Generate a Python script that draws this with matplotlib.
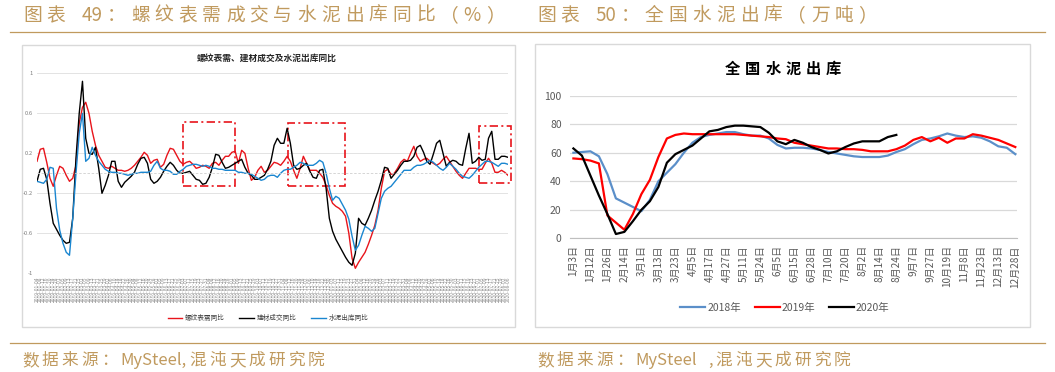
import matplotlib
matplotlib.use("Agg")
import matplotlib.pyplot as plt
from matplotlib.patches import Rectangle
import pandas as pd

# ---- left chart: YoY ratios ----
REBAR = [0.12, 0.24, 0.25, 0.11, -0.05, -0.13, -0.02, 0.07, 0.05, -0.02,
         -0.08, -0.05, 0.08, 0.50, 0.66, 0.71, 0.60, 0.42, 0.28, 0.18,
         0.12, 0.06, 0.05, 0.07, 0.05, 0.03, 0.03, 0.02, 0.03, 0.05,
         0.08, 0.12, 0.16, 0.21, 0.18, 0.10, 0.13, 0.14, 0.06, 0.09,
         0.18, 0.25, 0.24, 0.18, 0.12, 0.09, 0.11, 0.12, 0.09, 0.05,
         0.06, 0.08, 0.07, 0.05, 0.10, 0.11, 0.08, 0.13, 0.17, 0.17,
         0.21, 0.22, 0.10, 0.23, 0.20, 0.05, -0.07, -0.04, 0.03, 0.07,
         0.01, 0.03, 0.07, 0.11, 0.10, 0.08, 0.12, 0.17, 0.12, 0.03,
         -0.05, 0.05, 0.17, 0.10, 0.03, 0.03, 0.03, 0.00, -0.04, -0.12,
         -0.22, -0.30, -0.33, -0.35, -0.38, -0.43, -0.60, -0.85, -0.95, -0.89,
         -0.84, -0.79, -0.71, -0.62, -0.52, -0.37, -0.15, 0.02, 0.04, -0.01,
         0.00, 0.05, 0.11, 0.14, 0.12, 0.20, 0.27, 0.17, 0.12, 0.14,
         0.15, 0.12, 0.10, 0.08, 0.10, 0.14, 0.17, 0.12, 0.07, 0.02,
         -0.02, -0.05, 0.00, 0.05, 0.05, 0.05, 0.04, 0.04, 0.10, 0.15,
         0.10, 0.01, 0.01, 0.03, 0.01, -0.02]

BUILD = [-0.08, 0.04, 0.05, -0.06, -0.30, -0.50, -0.56, -0.62, -0.67, -0.70,
         -0.69, -0.45, 0.15, 0.60, 0.92, 0.35, 0.20, 0.19, 0.26, 0.05,
         -0.20, -0.12, -0.02, 0.12, 0.12, -0.08, -0.14, -0.09, -0.06, -0.03,
         0.01, 0.09, 0.15, 0.16, 0.10, -0.06, -0.10, -0.08, -0.04, 0.02,
         0.07, 0.11, 0.08, 0.03, 0.00, 0.00, 0.01, 0.02, -0.02, -0.06,
         -0.07, -0.11, -0.10, -0.04, 0.06, 0.19, 0.18, 0.11, 0.05, 0.06,
         0.08, 0.10, 0.12, 0.14, 0.06, 0.00, -0.02, -0.06, -0.06, -0.04,
         -0.02, 0.04, 0.12, 0.28, 0.35, 0.30, 0.30, 0.45, 0.30, 0.08,
         0.04, 0.05, 0.08, 0.10, 0.02, -0.04, -0.05, 0.03, 0.04, -0.15,
         -0.45, -0.58, -0.66, -0.72, -0.78, -0.84, -0.89, -0.92, -0.80, -0.45,
         -0.50, -0.52, -0.45, -0.37, -0.27, -0.18, -0.07, 0.06, 0.05, -0.05,
         -0.01, 0.03, 0.08, 0.12, 0.12, 0.13, 0.17, 0.26, 0.28, 0.21,
         0.12, 0.09, 0.19, 0.30, 0.33, 0.20, 0.07, 0.11, 0.13, 0.12,
         0.09, 0.08, 0.25, 0.40, 0.10, 0.12, 0.16, 0.13, 0.14, 0.35,
         0.42, 0.14, 0.14, 0.17, 0.17, 0.16]

CEMENT = [-0.08, -0.09, -0.10, -0.06, 0.06, 0.05, -0.35, -0.57, -0.70, -0.79,
          -0.82, -0.45, 0.00, 0.40, 0.60, 0.12, 0.15, 0.26, 0.18, 0.12,
          0.08, 0.04, 0.02, 0.01, 0.01, 0.00, 0.00, -0.01, -0.02, -0.01,
          0.00, 0.00, 0.01, 0.01, 0.01, 0.02, 0.08, 0.12, 0.05, 0.03,
          0.03, 0.02, -0.01, -0.01, 0.02, 0.04, 0.07, 0.08, 0.09, 0.09,
          0.08, 0.07, 0.08, 0.07, 0.05, 0.05, 0.04, 0.04, 0.03, 0.03,
          0.03, 0.03, 0.01, 0.01, 0.00, 0.00, -0.01, -0.03, -0.05, -0.07,
          -0.06, -0.03, -0.02, -0.02, -0.04, 0.00, 0.03, 0.04, 0.04, 0.06,
          0.08, 0.11, 0.10, 0.08, 0.08, 0.08, 0.10, 0.13, 0.11, 0.00,
          -0.15, -0.27, -0.23, -0.25, -0.31, -0.37, -0.46, -0.63, -0.77, -0.72,
          -0.62, -0.53, -0.55, -0.58, -0.55, -0.40, -0.25, -0.18, -0.15, -0.13,
          -0.09, -0.05, -0.01, 0.03, 0.03, 0.03, 0.06, 0.08, 0.08, 0.09,
          0.11, 0.13, 0.11, 0.08, 0.05, 0.03, 0.06, 0.10, 0.07, 0.04,
          0.00, -0.03, -0.04, -0.05, -0.02, 0.02, 0.06, 0.09, 0.12, 0.12,
          0.11, 0.09, 0.07, 0.10, 0.10, 0.09]

# category labels along the left chart's x axis
DATES = pd.date_range("2019-01-04", periods=len(REBAR), freq="4D").strftime("%Y-%m-%d").tolist()
LEFT_YTICKS = [-1, -0.6, -0.2, 0.2, 0.6, 1]
LEFT_YLABELS = ["-1", "-0.6", "-0.2", "0.2", "0.6", "1"]

# highlighted periods: (x from, x to, y low, y high)
BOXES = [(45.1, 61.0, -0.127, 0.51), (77.2, 94.8, -0.123, 0.50), (136.0, 146.0, -0.093, 0.477)]

# ---- right chart: national cement shipments ----
OUT_2018 = [60, 60.5, 61, 57.5, 45, 28, 25, 22, 19, 27,
            40, 46, 52, 60, 67, 71, 72.5, 73.5, 74.5, 74.5,
            73, 72, 72, 70, 65.5, 63, 63.5, 63.5, 63, 62,
            60.5, 59.5, 58.5, 57.5, 57, 57, 57, 58, 60.5, 62.5,
            66, 69, 70, 71.5, 73.5, 72, 71, 71.5, 70.5, 68,
            64.5, 63.5, 59]
OUT_2019 = [56, 55.5, 54.5, 52.5, 16, 11, 6, 17, 31, 41,
            57, 70, 72.5, 73.5, 73, 73, 73, 73, 73, 73,
            72.5, 72, 71.5, 71, 70, 69.5, 67, 66, 65, 64,
            63, 63, 62.5, 62.5, 62, 61, 61, 61, 62.5, 65,
            69, 71, 68, 70.5, 67, 70, 70, 73, 72, 70.5,
            69, 66.5, 64]
OUT_2020 = [63, 58, 44, 30, 17, 3, 4.5, 12, 20, 26,
            36, 53, 59, 62, 65, 70, 75, 76, 78, 79,
            79, 78.5, 78, 74, 68, 66, 69, 67, 64, 62,
            59.5, 61, 64, 66.5, 68, 68, 68, 71, 72.5]
RIGHT_XLABELS = ["1月3日", "1月12日", "1月26日", "2月14日", "3月1日", "3月13日", "3月23日",
                 "4月5日", "4月17日", "4月27日", "5月11日", "5月24日", "6月5日", "6月15日",
                 "6月28日", "7月10日", "7月20日", "8月2日", "8月14日", "8月24日", "9月7日",
                 "9月27日", "10月19日", "11月8日", "11月23日", "12月13日", "12月28日"]

W, H = 1055, 372
GOLD = "#c09a5e"
CJK = ["Noto Sans CJK SC", "DejaVu Sans"]
plt.rcParams["font.family"] = CJK

fig = plt.figure(figsize=(W / 100, H / 100), dpi=100)
renderer = fig.canvas.get_renderer()


def spaced_text(x, y, s, size, color, gap, weight="normal", ha="left"):
    """Draw text char by char (ascii runs kept whole) with extra tracking, x/y in pixels."""
    tokens = []
    for ch in s:
        if ch.isascii() and ch != " " and tokens and tokens[-1].isascii() and tokens[-1] != " ":
            tokens[-1] += ch
        else:
            tokens.append(ch)
    em = size * 100 / 72
    widths = []
    for tok in tokens:
        if tok == " ":
            widths.append(em * 0.3)
        elif not tok.isascii():
            widths.append(em)
        else:
            t = fig.text(0, 0, tok, fontsize=size, weight=weight)
            widths.append(t.get_window_extent(renderer).width)
            t.remove()
    total = sum(widths) + gap * (len(tokens) - 1)
    if ha == "center":
        x -= total / 2
    for tok, w in zip(tokens, widths):
        if tok != " ":
            fig.text(x / W, 1 - y / H, tok, fontsize=size, weight=weight, color=color,
                     ha="left", va="baseline")
        x += w + gap


def frame(x0, y0, x1, y1, color, lw=1.0):
    fig.add_artist(Rectangle((x0 / W, 1 - y1 / H), (x1 - x0) / W, (y1 - y0) / H,
                             transform=fig.transFigure, fill=False, ec=color, lw=lw))


# headers, rules and sources
spaced_text(23, 21, "图表 49：螺纹表需成交与水泥出库同比（%）", 13.5, GOLD, 5)
spaced_text(537, 21, "图表 50：全国水泥出库（万吨）", 13.5, GOLD, 5)
fig.add_artist(plt.Line2D([10 / W, 1045 / W], [1 - 32 / H] * 2, color=GOLD, lw=0.9))
fig.add_artist(plt.Line2D([10 / W, 1045 / W], [1 - 343 / H] * 2, color=GOLD, lw=0.9))
spaced_text(22, 365, "数据来源：MySteel,混沌天成研究院", 12, GOLD, 3)
spaced_text(537, 365, "数据来源：MySteel ,混沌天成研究院", 12, GOLD, 3)

frame(22, 45, 515, 327, "#d9d9d9")
frame(535, 44, 1030, 327, "#d9d9d9")

# ---- left chart ----
ax1 = fig.add_axes([37 / W, 1 - 273.3 / H, 471 / W, 200 / H])
x1 = range(len(REBAR))
l1, = ax1.plot(x1, REBAR, color="#e8141b", lw=1.0)
l2, = ax1.plot(x1, BUILD, color="#000000", lw=1.0)
l3, = ax1.plot(x1, CEMENT, color="#1a86d0", lw=1.0)
ax1.set_xlim(0, len(REBAR) - 1)
ax1.set_ylim(-1, 1)
ax1.set_yticks(LEFT_YTICKS)
ax1.set_yticklabels(LEFT_YLABELS)
ax1.set_xticks(list(x1))
ax1.set_xticklabels(DATES, rotation=90)
ax1.tick_params(axis="x", labelsize=3.5, labelcolor="#8c8c8c", length=0, pad=2)
ax1.tick_params(axis="y", labelsize=4.2, labelcolor="#7f7f7f", length=0, pad=3)
ax1.grid(axis="y", color="#e3e3e3", lw=0.7)
ax1.axhline(0, color="#cfcfcf", lw=0.6, ls=(0, (3, 2)))
for s in ax1.spines.values():
    s.set_visible(False)
ax1.set_axisbelow(True)
for xa, xb, ya, yb in BOXES:
    ax1.add_patch(Rectangle((xa, ya), xb - xa, yb - ya, fill=False, ec="#e8141b", lw=1.2,
                            ls=(0, (5, 2, 1.2, 2)), clip_on=False))
fig.text(267 / W, 1 - 58 / H, "螺纹表需、建材成交及水泥出库同比", fontsize=6.3, weight="bold",
         color="#262626", ha="center", va="center")
fig.legend([l1, l2, l3], ["螺纹表需同比", "建材成交同比", "水泥出库同比"], loc="center",
           bbox_to_anchor=(268 / W, 1 - 318 / H), ncol=3, frameon=False, fontsize=4.8,
           handlelength=2.2, handletextpad=0.4, columnspacing=2.2, labelcolor="#404040")

# ---- right chart ----
ax2 = fig.add_axes([570 / W, 1 - 238.3 / H, 447 / W, 142.6 / H])
r1, = ax2.plot(range(len(OUT_2018)), OUT_2018, color="#5b8fc9", lw=1.6)
r2, = ax2.plot(range(len(OUT_2019)), OUT_2019, color="#ff0000", lw=1.6)
r3, = ax2.plot(range(len(OUT_2020)), OUT_2020, color="#000000", lw=1.6)
ax2.set_xlim(-0.4, 52.2)
ax2.set_ylim(0, 100)
ax2.set_yticks(range(0, 101, 20))
ax2.set_xticks(range(0, 53, 2))
ax2.set_xticklabels(RIGHT_XLABELS, rotation=90)
ax2.tick_params(axis="x", labelsize=7.2, labelcolor="#595959", length=0, pad=5)
ax2.tick_params(axis="y", labelsize=7.5, labelcolor="#595959", length=0, pad=6)
ax2.grid(axis="y", color="#d9d9d9", lw=0.9)
for k, s in ax2.spines.items():
    s.set_visible(k == "bottom")
ax2.spines["bottom"].set_color("#bfbfbf")
ax2.set_axisbelow(True)
spaced_text(783, 74, "全国水泥出库", 11, "#000000", 5, weight="bold", ha="center")
fig.legend([r1, r2, r3], ["2018年", "2019年", "2020年"], loc="center",
           bbox_to_anchor=(785 / W, 1 - 308 / H), ncol=3, frameon=False, fontsize=7.5,
           handlelength=2.4, handletextpad=0.2, columnspacing=1.3, labelcolor="#595959")

fig.savefig("out.png", dpi=100)
